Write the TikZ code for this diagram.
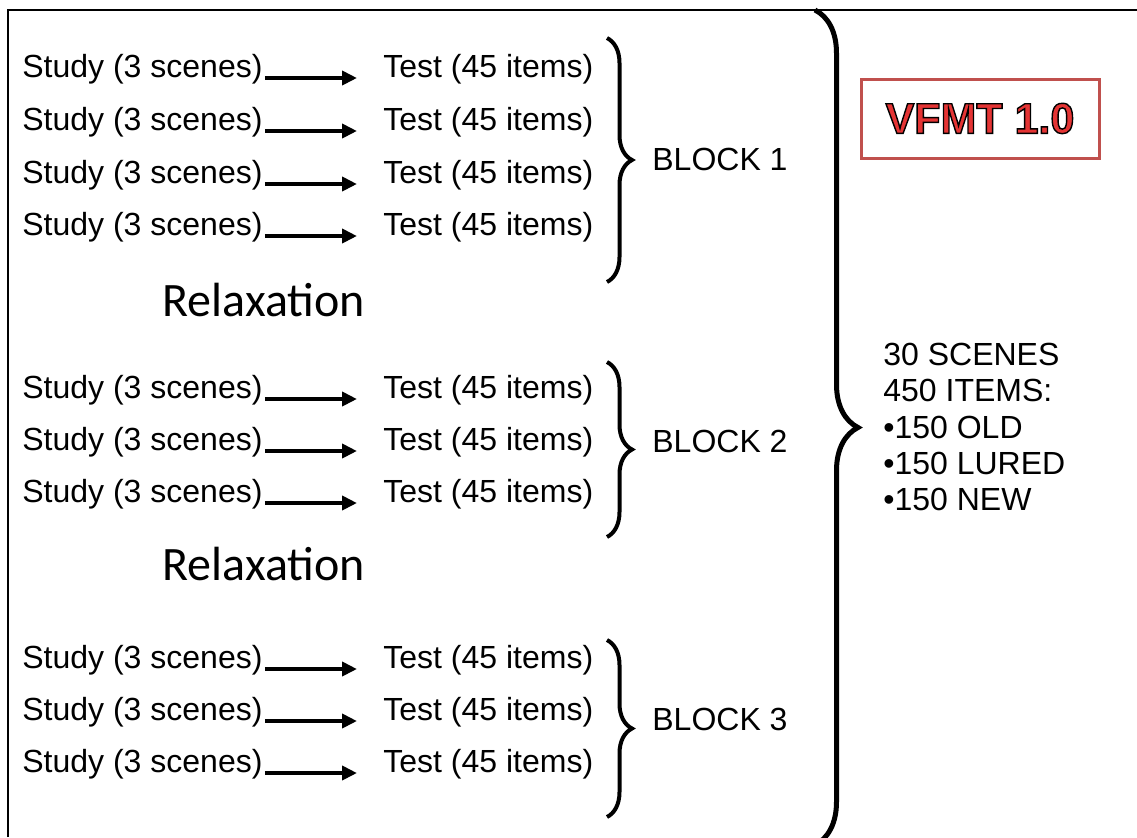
\documentclass[tikz,border=0pt]{standalone}
\usepackage{fontspec}
\setmainfont{Liberation Sans}
\newfontfamily\relaxfont{Carlito}
\usetikzlibrary{arrows.meta,decorations.pathreplacing}

\definecolor{boxred}{RGB}{192,80,77}
\definecolor{vfmtred}{RGB}{228,52,52}

% red letters with a black rim (fill and stroke text mode)
\newcommand\rimtext[1]{%
  {\color{vfmtred}\special{pdf:literal direct 2 Tr 0.7 w 0 0 0 RG}#1\special{pdf:literal direct 0 Tr}}}

\tikzset{
  lbl/.style={anchor=base west, inner sep=0pt, font=\fontsize{16}{18}\selectfont},
  relax/.style={anchor=base west, inner sep=0pt, font=\relaxfont\fontsize{24}{27}\selectfont},
  flow/.style={line width=2.3pt, -{Triangle[length=7.5pt,width=7pt]}},
  brc/.style={decorate, decoration={brace, amplitude=12.5pt}, line width=2pt},
  bigbrc/.style={decorate, decoration={brace, amplitude=21.5pt}, line width=2.5pt}
}

\begin{document}
\begin{tikzpicture}[x=0.5pt, y=-0.5pt]
    \useasboundingbox (0,0) rectangle (1137,837);
    \draw[line width=1pt] (8,837) -- (8,10) -- (1137,10);

    % block 1
    \node[lbl] (s1) at (22,77) {Study (3 scenes)};
    \node[lbl] (t1) at (383,77) {Test (45 items)};
    \draw[flow] ([xshift=1pt,yshift=-0.5pt]s1.base east) -- ([xshift=-13pt,yshift=-0.5pt]t1.base west);
    \node[lbl] (s2) at (22,130) {Study (3 scenes)};
    \node[lbl] (t2) at (383,130) {Test (45 items)};
    \draw[flow] ([xshift=1pt,yshift=-0.5pt]s2.base east) -- ([xshift=-13pt,yshift=-0.5pt]t2.base west);
    \node[lbl] (s3) at (22,183) {Study (3 scenes)};
    \node[lbl] (t3) at (383,183) {Test (45 items)};
    \draw[flow] ([xshift=1pt,yshift=-0.5pt]s3.base east) -- ([xshift=-13pt,yshift=-0.5pt]t3.base west);
    \node[lbl] (s4) at (22,235) {Study (3 scenes)};
    \node[lbl] (t4) at (383,235) {Test (45 items)};
    \draw[flow] ([xshift=1pt,yshift=-0.5pt]s4.base east) -- ([xshift=-13pt,yshift=-0.5pt]t4.base west);
    \draw[brc] (607,38) -- (607,282);
    \node[lbl] (block1) at (652,170) {BLOCK 1};

    \node[relax] (relax1) at (162,316) {Relaxation};

    % block 2
    \node[lbl] (s5) at (22,398) {Study (3 scenes)};
    \node[lbl] (t5) at (383,398) {Test (45 items)};
    \draw[flow] ([xshift=1pt,yshift=-0.5pt]s5.base east) -- ([xshift=-13pt,yshift=-0.5pt]t5.base west);
    \node[lbl] (s6) at (22,450) {Study (3 scenes)};
    \node[lbl] (t6) at (383,450) {Test (45 items)};
    \draw[flow] ([xshift=1pt,yshift=-0.5pt]s6.base east) -- ([xshift=-13pt,yshift=-0.5pt]t6.base west);
    \node[lbl] (s7) at (22,502) {Study (3 scenes)};
    \node[lbl] (t7) at (383,502) {Test (45 items)};
    \draw[flow] ([xshift=1pt,yshift=-0.5pt]s7.base east) -- ([xshift=-13pt,yshift=-0.5pt]t7.base west);
    \draw[brc] (607,362) -- (607,537);
    \node[lbl] (block2) at (652,452) {BLOCK 2};

    \node[relax] (relax2) at (162,580) {Relaxation};

    % block 3
    \node[lbl] (s8) at (22,668) {Study (3 scenes)};
    \node[lbl] (t8) at (383,668) {Test (45 items)};
    \draw[flow] ([xshift=1pt,yshift=-0.5pt]s8.base east) -- ([xshift=-13pt,yshift=-0.5pt]t8.base west);
    \node[lbl] (s9) at (22,720) {Study (3 scenes)};
    \node[lbl] (t9) at (383,720) {Test (45 items)};
    \draw[flow] ([xshift=1pt,yshift=-0.5pt]s9.base east) -- ([xshift=-13pt,yshift=-0.5pt]t9.base west);
    \node[lbl] (s10) at (22,772) {Study (3 scenes)};
    \node[lbl] (t10) at (383,772) {Test (45 items)};
    \draw[flow] ([xshift=1pt,yshift=-0.5pt]s10.base east) -- ([xshift=-13pt,yshift=-0.5pt]t10.base west);
    \draw[brc] (607,640) -- (607,817);
    \node[lbl] (block3) at (652,730) {BLOCK 3};

    % everything
    \begin{scope}
      \clip (0,0) rectangle (1137,837);
      \draw[bigbrc] (815,10) -- (815,845);
    \end{scope}

    \node[draw=boxred, line width=1.5pt, minimum width=119pt, minimum height=39.5pt,
          font=\fontsize{21.5}{24}\bfseries] (vfmt) at (980,118.5) {\rimtext{VFMT 1.0}};
    \node[anchor=north west, align=left, inner sep=0pt, font=\fontsize{16}{18.1}\selectfont] (totals)
          at (883,343) {30 SCENES\\450 ITEMS:\\•150 OLD\\•150 LURED\\•150 NEW};
\end{tikzpicture}
\end{document}
